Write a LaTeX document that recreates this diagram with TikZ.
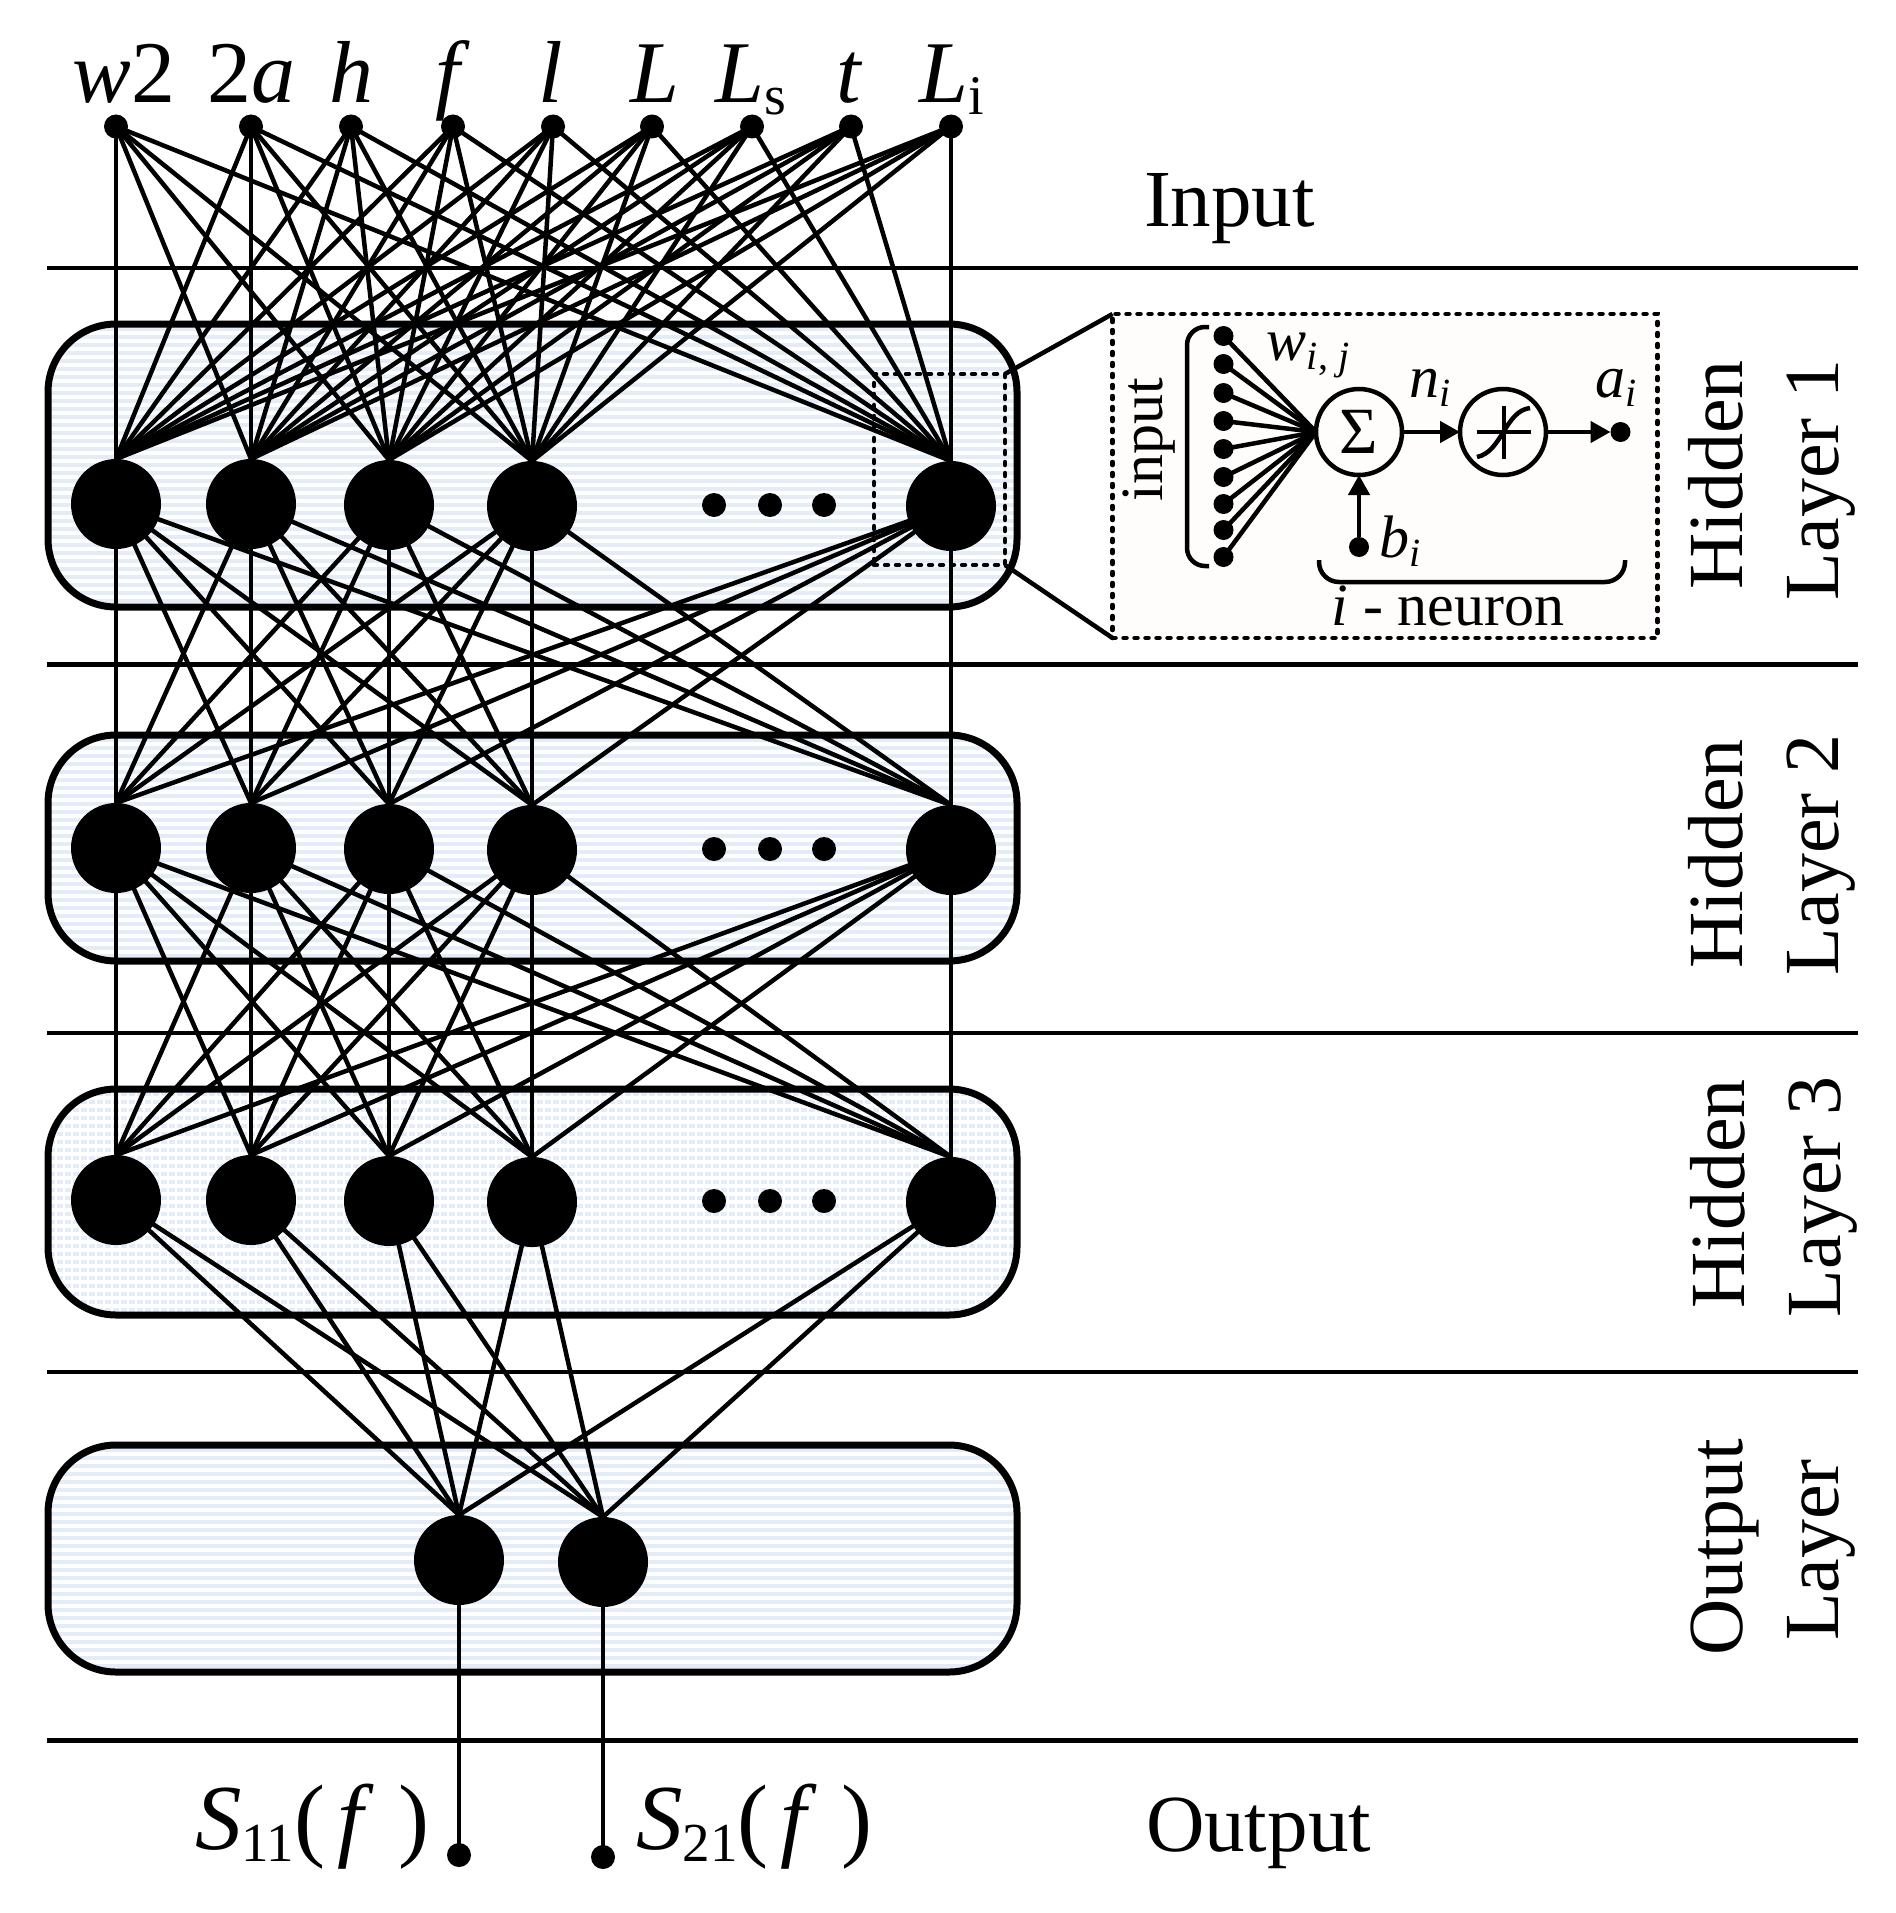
\documentclass[tikz,border=0pt]{standalone}
\usepackage{fontspec}
\setmainfont{Liberation Serif}
\usetikzlibrary{arrows.meta}
\pgfdeclarelayer{boxes}
\pgfdeclarelayer{wires}
\pgfsetlayers{boxes,wires,main}
\definecolor{band}{HTML}{E3ECF7}
\definecolor{tint}{HTML}{FFFDFB}
\newcommand{\fsz}[1]{\fontsize{#1}{#1}\selectfont}
\newcommand{\lowsub}[3]{\raisebox{-#2pt}{\fsz{#1}#3}}
\tikzset{
  every node/.style={inner sep=0pt,outer sep=0pt},
  rule/.style={line width=4.5pt},
  wire/.style={line width=4.5pt},
  neuron/.style={circle,fill=black,minimum size=90pt},
  tiny dot/.style={circle,fill=black,minimum size=24pt},
  in dot/.style={circle,fill=black,minimum size=20pt},
  stripes/.style={path picture={
    \foreach \k in {0,...,36}
      \draw[band,line width=4pt] ([yshift=-\k*8pt-5pt]path picture bounding box.north west)
        -- ([yshift=-\k*8pt-5pt]path picture bounding box.north east);
  }},
  bricks/.style={path picture={
    \foreach \k in {0,...,36}
      \draw[band,line width=4pt] ([yshift=-\k*8pt-5pt]path picture bounding box.north west)
        -- ([yshift=-\k*8pt-5pt]path picture bounding box.north east);
    \foreach \k in {0,...,121}
      \draw[white,line width=2pt] ([xshift=\k*8pt]path picture bounding box.north west)
        -- ([xshift=\k*8pt]path picture bounding box.south west);
  }},
  layerbox/.style={draw=black,line width=7pt,rounded corners=68pt,minimum width=969pt},
  big/.style={font=\fsz{88},anchor=base},
  sparam/.style={font=\fsz{93},anchor=base},
  side/.style={font=\fsz{78},anchor=base,rotate=90},
  mid/.style={font=\fsz{81},anchor=base west},
  small/.style={font=\fsz{60},anchor=base},
  ring/.style={circle,draw=black,line width=4.5pt,minimum size=86pt,fill=tint},
  flow/.style={line width=4.5pt,-{Triangle[length=20pt,width=21pt]}},
  dotted frame/.style={draw=black,line width=4.5pt,line cap=round,dash pattern=on 3pt off 8pt},
}
\begin{document}
\begin{tikzpicture}[x=1pt,y=-1pt]
\useasboundingbox (0,0) rectangle (1895,1913);

% layer boxes
\begin{pgfonlayer}{boxes}
  \node[layerbox,stripes,minimum height=283pt] (box1) at (532.5,465.5) {};
  \node[layerbox,stripes,minimum height=226pt] (box2) at (532.5,848) {};
  \node[layerbox,bricks,minimum height=226pt] (box3) at (532.5,1202) {};
  \node[layerbox,stripes,minimum height=227pt] (box4) at (532.5,1558.5) {};
\end{pgfonlayer}

% rules
\foreach \y in {268,664.5,1033,1372,1740.5}
  \draw[rule] (47,\y) -- (1858,\y);

% input points
\foreach \n/\x in {1/116,2/251,3/351,4/453,5/553,6/652,7/752,8/851,9/951}
  \node[tiny dot] (in\n) at (\x,126.5) {};

% hidden neurons
\foreach \l/\y in {1/504,2/848,3/1200} {
  \foreach \n/\x/\d in {1/116/0,2/251/0,3/389/1,4/532/2,5/951/2}
    \node[neuron] (h\l\n) at (\x,\y+\d) {};
  \foreach \k/\x in {1/714,2/770,3/824}
    \node[tiny dot] (d\l\k) at (\x,\y+1) {};
}

% output neurons and ends
\node[neuron] (o1) at (459,1560) {};
\node[neuron] (o2) at (603,1562) {};
\node[tiny dot] (e1) at (459,1855) {};
\node[tiny dot] (e2) at (603,1857) {};

% connections
\begin{pgfonlayer}{wires}
  \foreach \a in {1,...,9}
    \foreach \b in {1,...,5}
      \draw[wire] (in\a.center) -- (h1\b.north);
  \foreach \a in {1,...,5}
    \foreach \b in {1,...,5} {
      \draw[wire] (h1\a.center) -- (h2\b.north);
      \draw[wire] (h2\a.center) -- (h3\b.north);
    }
  \foreach \a in {1,...,5} {
    \draw[wire] (h3\a.center) -- (o1.north);
    \draw[wire] (h3\a.center) -- (o2.north);
  }
  \draw[wire] (o1.center) -- (e1.center);
  \draw[wire] (o2.center) -- (e2.center);
\end{pgfonlayer}

% input labels
\node[big] (tw) at (124,103) {\textit{w}2};
\node[big] (ta) at (251,103) {2\textit{a}};
\node[big] (th) at (351,103) {\textit{h}};
\node[big] (tf) at (453,103) {\textit{f}};
\node[big] (tl) at (551,103) {\textit{l}};
\node[big] (tL) at (655,103) {\textit{L}};
\node[big] (tLs) at (751,103) {\textit{L}\lowsub{56}{12}{s}};
\node[big] (tt) at (850,103) {\textit{t}};
\node[big] (tLi) at (952,103) {\textit{L}\lowsub{56}{12}{i}};

% output labels
\node[sparam] (s11) at (312,1849) {\textit{S}\lowsub{55}{12}{11}(\kern12pt\textit{f}\kern24pt)};
\node[sparam] (s21) at (754,1849) {\textit{S}\lowsub{55}{12}{21}(\kern12pt\textit{f}\kern24pt)};

% row titles
\node[mid] (tinput) at (1144,226) {Input};
\node[mid] (toutput) at (1146,1851) {Output};
\node[side] (th1) at (1742,475) {Hidden};
\node[side] (tl1) at (1838,480) {Layer 1};
\node[side] (th2) at (1742,854) {Hidden};
\node[side] (tl2) at (1838,855) {Layer 2};
\node[side] (th3) at (1744,1194) {Hidden};
\node[side] (tl3) at (1840,1197) {Layer 3};
\node[side] (th4) at (1742,1547) {Output};
\node[side] (tl4) at (1838,1550) {Layer};

% neuron detail
\node[dotted frame,fill=tint,minimum width=545pt,minimum height=324pt] (inset) at (1385,476) {};
\node[dotted frame,minimum width=131pt,minimum height=191pt] (zoombox) at (939.5,469.5) {};
\draw[rule] (zoombox.north east) -- (inset.north west);
\draw[rule] (zoombox.south east) -- (inset.south west);

\draw[line width=4.5pt,rounded corners=18pt] (1209,327) -- (1187,327) -- (1187,566) -- (1209,566);
\node[ring,font=\fsz{66}] (sum) at (1359,432) {Σ};
\node[ring] (act) at (1503,432) {};
\node[in dot] (aout) at (1620.5,432) {};
\node[in dot] (bin) at (1359,547) {};
\foreach \n/\y in {1/336,2/364,3/393,4/421,5/449,6/477,7/504,8/530,9/557} {
  \node[in dot] (w\n) at (1223.5,\y) {};
  \draw[line width=4.5pt] (w\n.center) -- (sum.west);
}
\draw[flow] (sum) -- (act);
\draw[flow] (act) -- (aout);
\draw[flow] (bin) -- (sum);
\draw[line width=4.5pt] (1476.5,432) -- (1531,432);
\draw[line width=4.5pt] (1504,406) -- (1504,459);
\draw[line width=4.5pt] (1477,457) .. controls (1502,452) and (1505,411) .. (1530,408);
\draw[line width=4.5pt,rounded corners=20pt] (1319,560) -- (1319,582) -- (1625,582) -- (1625,560);

\node[small] (tweight) at (1308,360) {\textit{w}\lowsub{40}{9}{\textit{i}, \textit{j}}};
\node[small] (tn) at (1430,397) {\textit{n}\lowsub{40}{9}{\textit{i}}};
\node[small] (ta2) at (1616,397) {\textit{a}\lowsub{40}{9}{\textit{i}}};
\node[small] (tb) at (1400,557) {\textit{b}\lowsub{40}{9}{\textit{i}}};
\node[small] (tneuron) at (1448,625) {\textit{i} - neuron};
\node[small,rotate=90] (tin) at (1162,440) {input};
\end{tikzpicture}
\end{document}
